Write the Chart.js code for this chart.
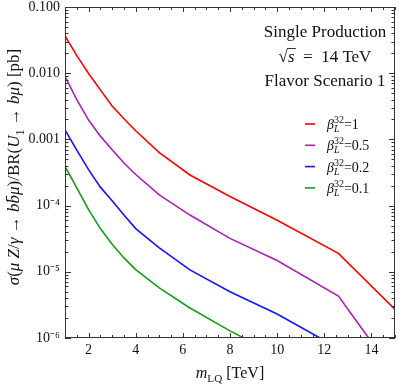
<!DOCTYPE html>
<html>
<head>
<meta charset="utf-8">
<script src="https://cdn.jsdelivr.net/npm/chart.js@4.4.0/dist/chart.umd.min.js"></script>
<style>
html, body { margin: 0; padding: 0; background: #fff; }
#caixa { width: 399px; height: 386px; }
</style>
</head>
<body>
<div id="caixa"><canvas id="grafico" width="399" height="386"></canvas></div>
<script>
// massas do leptoquark (TeV)
const masses = [1, 1.5, 2, 2.5, 3, 3.5, 4, 5, 6.3, 8, 10, 12.6, 15];

// secao de choque [pb] para cada beta_L^32
const sigmaBeta1   = [0.0365, 0.0184, 0.0099, 0.0056, 0.0032, 0.00205, 0.00135, 0.00063, 0.00029, 1.37e-4, 6.0e-5, 1.9e-5, 2.7e-6];
const sigmaBeta05  = [0.0089, 0.0040, 0.00196, 0.00112, 7.0e-4, 4.4e-4, 2.95e-4, 1.45e-4, 7.2e-5, 3.2e-5, 1.48e-5, 4.3e-6, 2.8e-7];
const sigmaBeta02  = [0.00139, 6.9e-4, 3.5e-4, 1.9e-4, 1.18e-4, 7.2e-5, 4.5e-5, 2.3e-5, 1.07e-5, 5.0e-6, 2.3e-6, 7e-7, 1.0e-7];
const sigmaBeta01  = [3.9e-4, 1.85e-4, 8.7e-5, 4.5e-5, 2.6e-5, 1.62e-5, 1.08e-5, 5.7e-6, 2.84e-6, 1.28e-6, 5.5e-7, 1.8e-7, 3e-8];

const betaLabels = ['1', '0.5', '0.2', '0.1'];
const lineColors = ['#ff0000', '#b01eb5', '#1414ff', '#14a014'];

const xTickValues = [2, 4, 6, 8, 10, 12, 14];
const yTickValues = [1e-6, 1e-5, 1e-4, 1e-3, 1e-2, 1e-1];
const yTickLabels = ['10\u207B\u2076', '10\u207B\u2075', '10\u207B\u2074', '0.001', '0.010', '0.100'];

const serif = '"Liberation Serif", "Times New Roman", serif';

function pares(valores) {
    return masses.map((m, i) => ({ x: m, y: valores[i] }));
}

// escreve texto com partes em italico / subscrito
function textoRico(ctx, partes, x, y, tamanho, alinhamento) {
    let largura = 0;
    const itens = partes.map(([t, estilo]) => {
        const pequeno = estilo.includes('sub') || estilo.includes('sup');
        const fs = pequeno ? tamanho * 0.7 : tamanho;
        const fonte = (estilo.includes('it') ? 'italic ' : '') + fs + 'px ' + serif;
        ctx.font = fonte;
        const w = ctx.measureText(t).width;
        const dy = estilo.includes('sub') ? tamanho * 0.28 : (estilo.includes('sup') ? -tamanho * 0.4 : 0);
        largura += w;
        return { t, fonte, w, dy };
    });
    let cx = x;
    if (alinhamento === 'center') cx = x - largura / 2;
    if (alinhamento === 'right') cx = x - largura;
    itens.forEach(p => {
        ctx.font = p.fonte;
        ctx.fillText(p.t, cx, y + p.dy);
        cx += p.w;
    });
    return largura;
}

const moldura = {
    id: 'moldura',
    afterDraw(chart) {
        const ctx = chart.ctx;
        const a = chart.chartArea;
        const sx = chart.scales.x;
        const sy = chart.scales.y;
        ctx.save();
        ctx.strokeStyle = '#333';
        ctx.lineWidth = 1;
        ctx.strokeRect(Math.round(a.left) + 0.5, Math.round(a.top) + 0.5,
            Math.round(a.right - a.left) - 1, Math.round(a.bottom - a.top) - 1);

        ctx.beginPath();
        for (let v = 1; v <= 15; v += 0.5) {
            const px = Math.round(sx.getPixelForValue(v)) + 0.5;
            const len = (v % 2 === 0) ? 5 : 3;
            ctx.moveTo(px, a.bottom); ctx.lineTo(px, a.bottom - len);
            ctx.moveTo(px, a.top); ctx.lineTo(px, a.top + len);
        }
        for (let e = -6; e <= -1; e++) {
            for (let k = 1; k <= 9; k++) {
                const v = k * Math.pow(10, e);
                if (v > 0.1 * 1.0001) continue;
                const py = Math.round(sy.getPixelForValue(v)) + 0.5;
                const len = k === 1 ? 6 : 3.5;
                ctx.moveTo(a.left, py); ctx.lineTo(a.left + len, py);
                ctx.moveTo(a.right, py); ctx.lineTo(a.right - len, py);
            }
        }
        ctx.stroke();

        // titulos dos eixos
        ctx.fillStyle = '#111';
        ctx.textBaseline = 'alphabetic';
        textoRico(ctx, [['m', 'it'], ['LQ', 'sub'], [' [TeV]', '']], (a.left + a.right) / 2, 378, 16, 'center');

        ctx.save();
        ctx.translate(19, 167);
        ctx.rotate(-Math.PI / 2);
        textoRico(ctx, [
            ['\u03C3', 'it'], ['(', ''], ['\u03BC', 'it'], [' Z', 'it'], ['/', ''], ['\u03B3', 'it'],
            [' \u2192 ', ''], ['b', 'it'], ['b\u0304', 'it'], ['\u03BC', 'it'], [')/BR(', ''], ['U', 'it'],
            ['1', 'sub'], [' \u2192 ', ''], ['b\u03BC', 'it'], [') [pb]', '']
        ], 0, 0, 17, 'center');
        ctx.restore();

        // texto de cenario
        const cxText = 325;
        ctx.font = '17px ' + serif;
        ctx.textAlign = 'center';
        ctx.fillText('Single Production', cxText, 37);
        ctx.fillText('Flavor Scenario 1', cxText, 86);
        ctx.textAlign = 'left';
        const w = textoRico(ctx, [['\u221A', ''], ['s', 'it'], ['  =  14 TeV', '']], cxText, 62, 17, 'center');
        ctx.font = '17px ' + serif;
        const raiz = ctx.measureText('\u221A').width;
        const xs = cxText - w / 2 + raiz - 1;
        ctx.beginPath();
        ctx.moveTo(xs, 48.5); ctx.lineTo(xs + 9, 48.5);
        ctx.stroke();

        // legenda
        chart.data.datasets.forEach((ds, i) => {
            const y = 124 + i * 21.3;
            ctx.strokeStyle = ds.borderColor;
            ctx.lineWidth = 1.6;
            ctx.beginPath();
            ctx.moveTo(305, y); ctx.lineTo(315, y);
            ctx.stroke();
            ctx.fillStyle = '#111';
            let x = 327;
            ctx.font = 'italic 14px ' + serif;
            ctx.fillText('\u03B2', x, y + 5);
            x += ctx.measureText('\u03B2').width;
            ctx.font = 'italic 10px ' + serif;
            ctx.fillText('L', x, y + 8);
            ctx.font = '10px ' + serif;
            ctx.fillText('32', x, y - 1);
            x += ctx.measureText('32').width;
            ctx.font = '14px ' + serif;
            ctx.fillText('=' + betaLabels[i], x, y + 5);
        });
        ctx.restore();
    }
};

const grafico = new Chart(document.getElementById('grafico').getContext('2d'), {
    type: 'line',
    data: {
        datasets: [sigmaBeta1, sigmaBeta05, sigmaBeta02, sigmaBeta01].map((valores, i) => ({
            label: 'beta=' + betaLabels[i],
            data: pares(valores),
            borderColor: lineColors[i],
            borderWidth: 1.6,
            pointRadius: 0,
            tension: 0,
            fill: false
        }))
    },
    options: {
        responsive: false,
        animation: false,
        layout: { padding: { top: 7, right: 4, left: 0, bottom: 0 } },
        plugins: { legend: { display: false }, tooltip: { enabled: false } },
        scales: {
            x: {
                type: 'linear',
                min: 1,
                max: 15,
                afterBuildTicks: s => { s.ticks = xTickValues.map(v => ({ value: v })); },
                afterFit: s => { s.height = 48; s.paddingLeft = 0; s.paddingRight = 0; },
                ticks: { font: { family: serif, size: 14 }, color: '#111', padding: 4, maxRotation: 0, autoSkip: false },
                grid: { display: false, drawTicks: false },
                border: { display: false }
            },
            y: {
                type: 'logarithmic',
                min: 1e-6,
                max: 0.1,
                afterBuildTicks: s => { s.ticks = yTickValues.map(v => ({ value: v })); },
                afterFit: s => { s.width = 65; s.paddingTop = 0; s.paddingBottom = 0; },
                ticks: {
                    font: { family: serif, size: 14 }, color: '#111', padding: 5, autoSkip: false,
                    callback: (v, i) => yTickLabels[i]
                },
                grid: { display: false, drawTicks: false },
                border: { display: false }
            }
        }
    },
    plugins: [moldura]
});
</script>
</body>
</html>
